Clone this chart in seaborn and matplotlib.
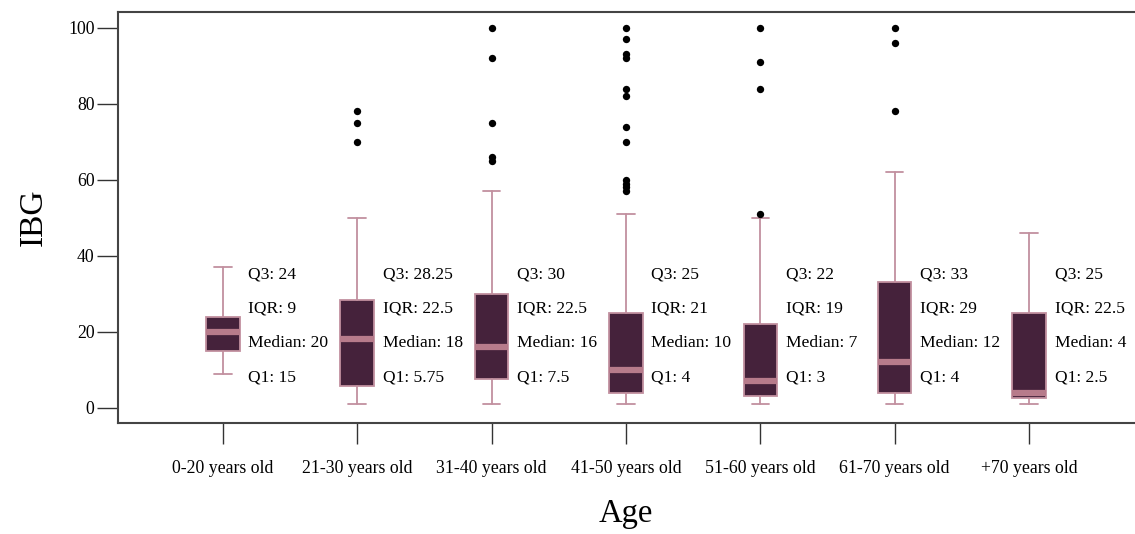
import numpy as np
import pandas as pd
import matplotlib
matplotlib.use("Agg")
import matplotlib.pyplot as plt
import seaborn as sns

# Summary statistics
groups = ['0-20 years old', '21-30 years old', '31-40 years old', '41-50 years old',
          '51-60 years old', '61-70 years old', '+70 years old']
whisker_low = [9, 1, 1, 1, 1, 1, 1]
q1 = [15, 5.75, 7.5, 4, 3, 4, 2.5]
median = [20, 18, 16, 10, 7, 12, 4]
q3 = [24, 28.25, 30, 25, 22, 33, 25]
whisker_high = [37, 50, 57, 51, 50, 62, 46]
outliers = [
    [],
    [78, 75, 70],
    [100, 92, 75, 66, 65],
    [100, 97, 93, 92, 84, 82, 74, 70, 60, 59, 58, 57],
    [100, 91, 84, 51],
    [100, 96, 78],
    [],
]
q1_labels = ['15', '5.75', '7.5', '4', '3', '4', '2.5']
median_labels = ['20', '18', '16', '10', '7', '12', '4']
iqr_labels = ['9', '22.5', '22.5', '21', '19', '29', '22.5']
q3_labels = ['24', '28.25', '30', '25', '22', '33', '25']

FILL = '#45223b'
EDGE = '#c2909f'
MEDIAN = '#b77b8b'

sns.set_theme(style='ticks')
plt.rcParams['font.family'] = ['Liberation Serif', 'DejaVu Serif']
plt.rcParams['text.color'] = 'black'
plt.rcParams['xtick.labelcolor'] = 'black'
plt.rcParams['ytick.labelcolor'] = 'black'
plt.rcParams['axes.labelcolor'] = 'black'

fig = plt.figure(figsize=(11.35, 5.34), dpi=100)
ax = fig.add_axes([0.104, 0.208, 0.895, 0.770])

stats = []
for i, g in enumerate(groups):
    stats.append(dict(label=g, whislo=whisker_low[i], q1=q1[i], med=median[i],
                      q3=q3[i], whishi=whisker_high[i], fliers=[]))

positions = np.arange(len(groups))
ax.bxp(stats, positions=positions, widths=0.25, showfliers=False, patch_artist=True,
       boxprops=dict(facecolor=FILL, edgecolor=EDGE, linewidth=1.3),
       medianprops=dict(color=MEDIAN, linewidth=4.5, solid_capstyle='butt'),
       whiskerprops=dict(color=EDGE, linewidth=1.3),
       capprops=dict(color=EDGE, linewidth=1.3),
       capwidths=0.13)

# outliers via seaborn scatter
out_df = pd.DataFrame(
    [(i, v) for i, vals in enumerate(outliers) for v in vals],
    columns=['pos', 'IBG'])
sns.scatterplot(data=out_df, x='pos', y='IBG', color='black', s=28,
                edgecolor='black', linewidth=0, ax=ax, zorder=5)

# summary annotations
for i in positions:
    x = i + 0.19
    ax.text(x, 35, f'Q3: {q3_labels[i]}', fontsize=12.6, va='center', ha='left')
    ax.text(x, 26, f'IQR: {iqr_labels[i]}', fontsize=12.6, va='center', ha='left')
    ax.text(x, 17, f'Median: {median_labels[i]}', fontsize=12.6, va='center', ha='left')
    ax.text(x, 8, f'Q1: {q1_labels[i]}', fontsize=12.6, va='center', ha='left')

ax.set_xlim(-0.78, 6.78)
ax.set_ylim(-4, 104.2)
ax.set_xticks(positions)
ax.set_xticklabels(groups, fontsize=12.8)
ax.set_yticks([0, 20, 40, 60, 80, 100])
ax.set_yticklabels(['0', '20', '40', '60', '80', '100'], fontsize=12.8)
ax.tick_params(axis='both', length=15, width=1, color='#333333', pad=2)
ax.tick_params(axis='x', pad=12)

ax.set_xlabel('Age', fontsize=23.5, labelpad=15)
ax.set_ylabel('IBG', fontsize=24, labelpad=14)

for side in ['left', 'top', 'bottom']:
    ax.spines[side].set_color('#444444')
    ax.spines[side].set_linewidth(1.5)
ax.spines['right'].set_visible(False)
ax.grid(False)

fig.savefig('out.png', dpi=100)
